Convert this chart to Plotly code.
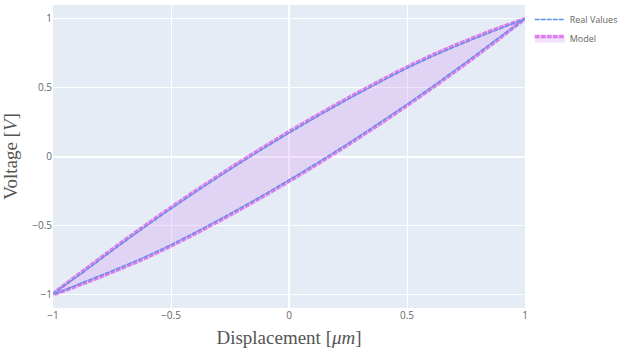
import plotly.graph_objects as go

# Displacement grid (normalized)
x_pts = [-1, -0.875, -0.75, -0.625, -0.5, -0.375, -0.25, -0.125, 0,
         0.125, 0.25, 0.375, 0.5, 0.625, 0.75, 0.875, 1]

# Real values: upper (descending) and lower (ascending) branches
real_upper = [-1.0, -0.845, -0.685, -0.53, -0.38, -0.235, -0.095, 0.04, 0.17,
              0.295, 0.415, 0.53, 0.64, 0.74, 0.83, 0.915, 1.0]
real_lower = [-1.0, -0.915, -0.83, -0.74, -0.64, -0.53, -0.415, -0.295, -0.17,
              -0.04, 0.095, 0.235, 0.38, 0.53, 0.685, 0.845, 1.0]

# Model: upper and lower branches
model_upper = [-1.0, -0.835, -0.675, -0.52, -0.37, -0.225, -0.085, 0.05, 0.18,
               0.305, 0.425, 0.54, 0.65, 0.75, 0.84, 0.925, 1.0]
model_lower = [-1.0, -0.925, -0.84, -0.75, -0.65, -0.54, -0.425, -0.305, -0.18,
               -0.05, 0.085, 0.225, 0.37, 0.52, 0.675, 0.835, 1.0]

# closed loops: lower branch ascending, then upper branch descending
loop_x = x_pts + x_pts[::-1]
real_y = real_lower + real_upper[::-1]
model_y = model_lower + model_upper[::-1]

fig = go.Figure()
fig.add_trace(go.Scatter(
    x=loop_x, y=model_y, mode="lines", name="Model", legendrank=2,
    line=dict(color="rgba(210,90,230,0.75)", width=3.5, dash="5px,1px",
              shape="spline", smoothing=0.6),
    fill="toself", fillcolor="rgba(218,160,240,0.32)",
))
fig.add_trace(go.Scatter(
    x=loop_x, y=real_y, mode="lines", name="Real Values", legendrank=1,
    line=dict(color="#5b93e8", width=1.3, dash="5px,1px",
              shape="spline", smoothing=0.6),
))

fig.update_layout(
    template="plotly",
    width=631, height=352,
    margin=dict(l=53, r=106, t=5, b=44),
    plot_bgcolor="#E5ECF6",
    paper_bgcolor="white",
    font=dict(family="Open Sans, sans-serif", size=10, color="#666"),
    legend=dict(x=1.01, y=1.0, xanchor="left", yanchor="top",
                font=dict(size=9, color="#666"), bgcolor="rgba(0,0,0,0)"),
    xaxis=dict(range=[-1, 1], tickvals=[-1, -0.5, 0, 0.5, 1],
               ticktext=["\u22121", "\u22120.5", "0", "0.5", "1"],
               showgrid=True, gridcolor="white", zeroline=True, zerolinecolor="white",
               tickfont=dict(size=10, color="#666"),
               title=dict(text="Displacement [<i>\u03bcm</i>]",
                          font=dict(family="Liberation Serif, serif", size=19, color="#555"),
                          standoff=9)),
    yaxis=dict(range=[-1.1, 1.1], tickvals=[-1, -0.5, 0, 0.5, 1],
               ticktext=["\u22121", "\u22120.5", "0", "0.5", "1"],
               showgrid=True, gridcolor="white", zeroline=True, zerolinecolor="white",
               tickfont=dict(size=10, color="#666"),
               title=dict(text="Voltage [<i>V</i>]",
                          font=dict(family="Liberation Serif, serif", size=19, color="#555"),
                          standoff=14)),
)

fig.write_html("out.html")
